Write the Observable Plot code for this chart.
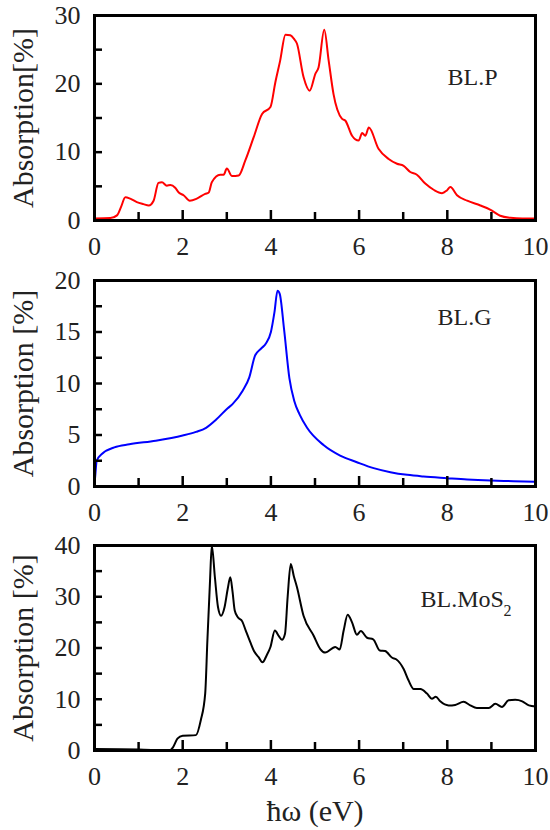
<!DOCTYPE html>
<html><head><meta charset="utf-8">
<script src="https://cdn.jsdelivr.net/npm/d3@7"></script>
<script src="https://cdn.jsdelivr.net/npm/@observablehq/plot@0.6"></script>
<style>
body{margin:0;background:#fff;}
#chart{position:relative;width:550px;height:830px;}
#chart svg{display:block;}
</style>
</head><body><div id="chart"></div>
<script>
// BL.P (red)
const pE = [0, 0.36, 0.51, 0.6, 0.7, 0.81, 0.96, 1.11, 1.23, 1.34, 1.45, 1.53, 1.64, 1.72, 1.83, 1.91, 2.02, 2.16, 2.32, 2.51, 2.59, 2.66, 2.85, 2.93, 3.0, 3.12, 3.27, 3.42, 3.61, 3.8, 3.99, 4.1, 4.21, 4.33, 4.44, 4.52, 4.59, 4.74, 4.88, 5.01, 5.08, 5.21, 5.31, 5.42, 5.61, 5.69, 5.84, 5.99, 6.07, 6.14, 6.22, 6.44, 6.67, 6.86, 7.01, 7.16, 7.31, 7.5, 7.69, 7.88, 7.99, 8.07, 8.22, 8.45, 8.75, 8.97, 9.2, 9.43, 9.7, 10];
const pA = [0.3, 0.35, 0.75, 1.95, 3.4, 3.2, 2.7, 2.4, 2.2, 2.9, 5.5, 5.6, 5.1, 5.2, 4.8, 4.1, 3.7, 2.9, 3.2, 3.9, 4.1, 5.6, 6.7, 6.7, 7.6, 6.5, 6.6, 8.8, 12.2, 15.6, 16.6, 20.2, 23.4, 27.2, 27.1, 26.6, 25.9, 21.0, 19.0, 21.5, 22.4, 27.9, 23.4, 18.5, 14.9, 14.6, 12.4, 11.7, 12.8, 12.4, 13.6, 10.5, 9.0, 8.3, 8.0, 7.1, 6.7, 5.4, 4.5, 4.0, 4.4, 4.9, 3.7, 2.9, 2.2, 1.6, 0.7, 0.4, 0.3, 0.3];
// BL.G (blue)
const gE = [0, 0.02, 0.05, 0.18, 0.45, 0.79, 1.39, 2.0, 2.3, 2.53, 2.76, 3.02, 3.13, 3.36, 3.51, 3.64, 3.78, 3.89, 4.0, 4.08, 4.15, 4.2, 4.3, 4.42, 4.53, 4.65, 4.82, 5.2, 5.57, 5.95, 6.33, 6.71, 7.09, 7.46, 7.99, 8.45, 8.98, 9.5, 10];
const gA = [0.2, 1.2, 2.5, 3.2, 3.8, 4.1, 4.45, 4.95, 5.3, 5.7, 6.5, 7.6, 8.0, 9.3, 10.6, 12.7, 13.4, 13.9, 15.0, 16.9, 19.0, 18.7, 15.2, 10.5, 8.3, 7.0, 5.7, 4.0, 3.0, 2.36, 1.78, 1.39, 1.13, 0.97, 0.81, 0.68, 0.58, 0.52, 0.45];
// BL.MoS2 (black)
const mE = [0, 1.0, 1.7, 1.78, 1.88, 2.0, 2.3, 2.41, 2.51, 2.56, 2.62, 2.66, 2.73, 2.8, 2.87, 2.95, 3.02, 3.08, 3.13, 3.18, 3.25, 3.35, 3.43, 3.53, 3.63, 3.72, 3.81, 3.9, 3.99, 4.09, 4.18, 4.25, 4.32, 4.38, 4.45, 4.52, 4.59, 4.74, 4.97, 5.12, 5.23, 5.46, 5.56, 5.65, 5.74, 5.84, 5.95, 6.04, 6.18, 6.32, 6.47, 6.59, 6.75, 6.84, 7.01, 7.12, 7.24, 7.39, 7.54, 7.65, 7.74, 7.84, 8.03, 8.18, 8.37, 8.52, 8.67, 8.94, 9.09, 9.24, 9.39, 9.54, 9.7, 9.85, 10];
const mA = [0.3, 0.2, 0.0, 0.6, 2.3, 2.9, 3.0, 5.9, 11.1, 21.5, 33.2, 40, 33.8, 28.0, 26.3, 28.0, 31.5, 33.8, 31.0, 27.3, 26.0, 25.2, 23.4, 21.2, 19.2, 18.2, 17.2, 18.5, 20.2, 23.4, 22.3, 21.6, 22.8, 30.0, 36.4, 34.0, 31.9, 26.3, 22.4, 19.8, 19.1, 20.2, 19.7, 23.4, 26.5, 25.0, 22.6, 23.3, 22.0, 21.7, 19.5, 19.4, 18.1, 17.8, 15.9, 13.7, 12.0, 12.0, 11.1, 10.1, 10.5, 9.6, 8.8, 8.9, 9.5, 8.8, 8.3, 8.3, 9.1, 8.5, 9.8, 9.9, 9.6, 8.8, 8.6];

// ticks
const xLabels = [0, 2, 4, 6, 8, 10];
const xMajor = [2, 4, 6, 8];
const xMinor = [1, 3, 5, 7, 9];
const pYLabels = [0, 10, 20, 30], pYTicks = [5, 10, 15, 20, 25];
const gYLabels = [0, 5, 10, 15, 20], gYTicks = [2.5, 5, 7.5, 10, 12.5, 15, 17.5];
const mYLabels = [0, 10, 20, 30, 40], mYTicks = [5, 10, 15, 20, 25, 30, 35];

const FONT = "Liberation Serif";
const W = 550, ML = 94, MR = 15;
const XMAX = 10;

function panel(o) {
  const innerW = W - ML - MR;
  const innerH = o.height - o.mt - o.mb;
  const data = o.E.map((e, i) => ({e, a: o.A[i]}));
  // tick lengths in pixels converted to data units through the panel size
  const majLen = o.yMax * 10 / innerH, minLen = o.yMax * 8 / innerH, yLen = XMAX * 8 / innerW;
  const txt = {fontFamily: FONT, fill: "#222"};
  const marks = [
    Plot.line(data, {x: "e", y: "a", stroke: o.color, strokeWidth: 2, curve: "monotone-x"}),
    Plot.ruleX(xMinor, {x: d => d, y1: 0, y2: minLen, stroke: "black", strokeWidth: 2.5}),
    Plot.ruleX(xMajor, {x: d => d, y1: 0, y2: majLen, stroke: "black", strokeWidth: 2.5}),
    Plot.ruleY(o.yTicks, {y: d => d, x1: 0, x2: yLen, stroke: "black", strokeWidth: 2.5}),
    Plot.frame({stroke: "black", strokeWidth: 3}),
    Plot.axisX(xLabels, {tickSize: 0, tickPadding: 16, fontSize: 26, label: null, ...txt}),
    Plot.axisY(o.yLabels, {tickSize: 0, tickPadding: 14, fontSize: 26, label: null, ...txt}),
    Plot.text([o.yTitle], {text: d => d, frameAnchor: "left", textAnchor: "middle", lineAnchor: "middle", rotate: -90, dx: -71, fontSize: 30, ...txt}),
    Plot.text([o.name], {text: d => d, frameAnchor: "top-left", textAnchor: "start", lineAnchor: "bottom", dx: o.nx, dy: o.ny, fontSize: 24, ...txt})
  ];
  if (o.sub) marks.push(Plot.text([o.sub], {text: d => d, frameAnchor: "top-left", textAnchor: "start", lineAnchor: "bottom", dx: o.sx, dy: o.sy, fontSize: 16, ...txt}));
  if (o.xTitle) marks.push(Plot.text([o.xTitle], {text: d => d, frameAnchor: "bottom", textAnchor: "middle", lineAnchor: "bottom", dy: 70, fontSize: 30, ...txt}));
  return Plot.plot({
    width: W, height: o.height,
    marginLeft: ML, marginRight: MR, marginTop: o.mt, marginBottom: o.mb,
    x: {domain: [0, XMAX]},
    y: {domain: [0, o.yMax]},
    style: {fontFamily: FONT, fontSize: "26px", background: "white", color: "#222", overflow: "visible"},
    marks
  });
}

const chart = document.getElementById("chart");
chart.append(panel({E: pE, A: pA, color: "#ff0000", yMax: 30, yLabels: pYLabels, yTicks: pYTicks,
  yTitle: "Absorption[%]", name: "BL.P", nx: 353, ny: 69, height: 265, mt: 15, mb: 45}));
chart.append(panel({E: gE, A: gA, color: "#0000ff", yMax: 20, yLabels: gYLabels, yTicks: gYTicks,
  yTitle: "Absorption [%]", name: "BL.G", nx: 343, ny: 44, height: 265, mt: 15, mb: 44}));
chart.append(panel({E: mE, A: mA, color: "#000000", yMax: 40, yLabels: mYLabels, yTicks: mYTicks,
  yTitle: "Absorption [%]", name: "BL.MoS", sub: "2", nx: 326, ny: 61, sx: 409, sy: 70,
  xTitle: "ħω (eV)", height: 300, mt: 15, mb: 80}));
</script>
</body></html>
